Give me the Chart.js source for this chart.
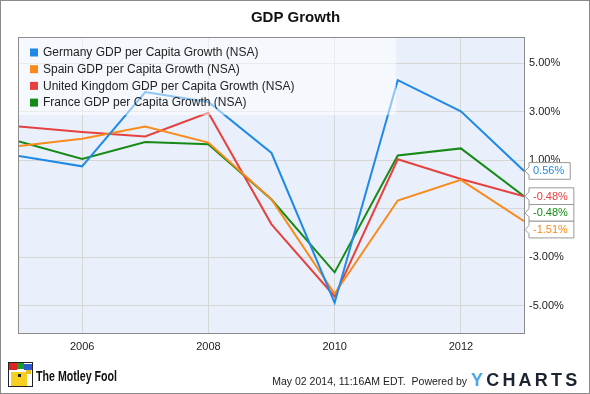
<!DOCTYPE html>
<html>
<head>
<meta charset="utf-8">
<script src="https://cdn.jsdelivr.net/npm/chart.js@4/dist/chart.umd.min.js"></script>
<style>
html,body{margin:0;padding:0;background:#fff;}
#wrap{width:590px;height:394px;position:relative;}
</style>
</head>
<body>
<div id="wrap"><canvas id="c" width="590" height="394"></canvas></div>
<script>
// ---- data ----
const years = [2005, 2006, 2007, 2008, 2009, 2010, 2011, 2012, 2013];
const germany = [1.18, 0.75, 3.81, 3.40, 1.30, -4.87, 4.30, 3.02, 0.56];
const spain   = [1.59, 1.89, 2.39, 1.73, -0.61, -4.50, -0.66, 0.19, -1.51];
const uk      = [2.39, 2.17, 1.98, 2.96, -1.64, -4.61, 1.04, 0.23, -0.48];
const france  = [1.78, 1.05, 1.75, 1.66, -0.62, -3.62, 1.20, 1.49, -0.48];
const seriesNames = [
  'Germany GDP per Capita Growth (NSA)',
  'Spain GDP per Capita Growth (NSA)',
  'United Kingdom GDP per Capita Growth (NSA)',
  'France GDP per Capita Growth (NSA)'
];
const xTickYears = [2006, 2008, 2010, 2012];
const yTickValues = [-5, -3, -1, 1, 3, 5];
const titleText = 'GDP Growth';
const footerDate = 'May 02 2014, 11:16AM EDT.  Powered by';

const colors = ['#1f8ae6', '#f98a1b', '#e5413f', '#168a16'];
const seriesValues = [germany, spain, uk, france];

const datasets = seriesValues.map((vals, i) => ({
  label: seriesNames[i],
  data: vals.map((v, j) => ({x: years[j], y: v})),
  borderColor: colors[i],
  backgroundColor: colors[i],
  borderWidth: 2,
  pointRadius: 0,
  tension: 0,
  fill: false
}));

const FONT = "'Liberation Sans', Arial, sans-serif";

const deco = {
  id: 'deco',
  beforeDraw(chart) {
    const {ctx, chartArea: a} = chart;
    ctx.save();
    ctx.fillStyle = '#fff';
    ctx.fillRect(0, 0, chart.width, chart.height);
    ctx.fillStyle = '#eaf0fb';
    ctx.fillRect(a.left, a.top, a.right - a.left, a.bottom - a.top);
    ctx.restore();
  },
  afterDatasetsDraw(chart) {
    const {ctx, chartArea: a} = chart;
    ctx.save();
    // legend overlay
    ctx.fillStyle = 'rgba(255,255,255,0.5)';
    ctx.fillRect(a.left, a.top, 396 - a.left, 115 - a.top);
    ctx.font = '12px ' + FONT;
    ctx.textBaseline = 'middle';
    for (let i = 0; i < seriesNames.length; i++) {
      const cy = 52.5 + i * 16.7;
      ctx.fillStyle = colors[i];
      ctx.fillRect(30, cy - 4, 8, 8);
      ctx.fillStyle = '#222';
      ctx.fillText(seriesNames[i], 43, cy + 0.5);
    }
    // frame
    ctx.strokeStyle = '#8c8c8c';
    ctx.lineWidth = 1;
    ctx.strokeRect(Math.round(a.left) - 0.5, Math.round(a.top) - 0.5,
                   Math.round(a.right - a.left) + 1, Math.round(a.bottom - a.top) + 1);
    // last value flags
    const ys = chart.scales.y;
    const items = seriesValues.map((vals, i) => ({
      i, v: vals[vals.length - 1], y: ys.getPixelForValue(vals[vals.length - 1])
    }));
    items.sort((p, q) => p.y - q.y);
    const h = 16.7;
    let prev = -1e9;
    ctx.font = '11px ' + FONT;
    items.forEach(it => {
      let cy = Math.max(it.y, prev + h);
      prev = cy;
      const txt = it.v.toFixed(2) + '%';
      const w = ctx.measureText(txt).width + 10;
      const x0 = a.right + 5, tip = a.right + 1;
      const top = cy - h / 2, bot = cy + h / 2;
      ctx.beginPath();
      ctx.moveTo(x0, top);
      ctx.lineTo(x0 + w, top);
      ctx.lineTo(x0 + w, bot);
      ctx.lineTo(x0, bot);
      ctx.lineTo(x0, cy + 4);
      ctx.lineTo(tip, cy);
      ctx.lineTo(x0, cy - 4);
      ctx.closePath();
      ctx.fillStyle = '#fff';
      ctx.fill();
      ctx.strokeStyle = '#999';
      ctx.stroke();
      ctx.fillStyle = colors[it.i];
      ctx.textAlign = 'left';
      ctx.textBaseline = 'middle';
      ctx.fillText(txt, x0 + 4, cy + 0.5);
    });
    ctx.restore();
  },
  afterDraw(chart) {
    const {ctx} = chart;
    ctx.save();
    // title
    ctx.fillStyle = '#111';
    ctx.font = 'bold 15px ' + FONT;
    ctx.textAlign = 'center';
    ctx.textBaseline = 'middle';
    ctx.fillText(titleText, 295.5, 17.5);
    // logo icon
    ctx.fillStyle = '#fff';
    ctx.fillRect(8, 362, 25, 25);
    ctx.fillStyle = '#f5d020';
    ctx.fillRect(11, 372, 16, 14);
    ctx.fillStyle = '#d22';
    ctx.fillRect(9, 363, 8, 7);
    ctx.fillStyle = '#1a9a2a';
    ctx.fillRect(17, 363, 7, 6);
    ctx.fillStyle = '#2a5bd0';
    ctx.fillRect(24, 364, 8, 6);
    ctx.fillStyle = '#e8c020';
    ctx.fillRect(26, 370, 5, 4);
    ctx.strokeStyle = '#222';
    ctx.lineWidth = 1;
    ctx.strokeRect(8.5, 362.5, 24, 24);
    ctx.fillStyle = '#222';
    ctx.fillRect(18, 374, 3, 3);
    // "The Motley Fool"
    ctx.font = 'bold 14px ' + FONT;
    ctx.textAlign = 'left';
    ctx.textBaseline = 'alphabetic';
    const tm = ctx.measureText('The Motley Fool').width;
    ctx.save();
    ctx.translate(36, 381);
    ctx.scale(81 / tm, 1);
    ctx.fillStyle = '#111';
    ctx.fillText('The Motley Fool', 0, 0);
    ctx.restore();
    // footer date
    ctx.font = '10.5px ' + FONT;
    ctx.textAlign = 'right';
    ctx.fillStyle = '#222';
    ctx.fillText(footerDate, 467, 385);
    // YCHARTS
    ctx.font = 'bold 18px ' + FONT;
    ctx.textAlign = 'left';
    const letters = 'YCHARTS'.split('');
    let x = 471;
    letters.forEach((ch, k) => {
      ctx.fillStyle = k === 0 ? '#4ea6e8' : '#1b2430';
      ctx.fillText(ch, x, 386);
      x += ctx.measureText(ch).width + 3.2;
    });
    // outer border
    ctx.strokeStyle = '#8a8a8a';
    ctx.lineWidth = 1;
    ctx.strokeRect(0.5, 0.5, chart.width - 1, chart.height - 1);
    ctx.restore();
  }
};

new Chart(document.getElementById('c'), {
  type: 'line',
  data: {datasets},
  plugins: [deco],
  options: {
    responsive: false,
    animation: false,
    devicePixelRatio: 1,
    layout: {padding: {left: 19, top: 38, right: 0, bottom: 0}},
    plugins: {legend: {display: false}, title: {display: false}, tooltip: {enabled: false}},
    scales: {
      x: {
        type: 'linear',
        min: years[0],
        max: years[years.length - 1],
        afterBuildTicks: s => { s.ticks = xTickYears.map(v => ({value: v})); },
        afterFit: s => { s.height = 61; },
        grid: {color: '#d6d6d6', drawTicks: false},
        border: {display: false},
        ticks: {
          padding: 7,
          color: '#222',
          font: {family: FONT, size: 11},
          callback: v => String(v),
          maxRotation: 0
        }
      },
      y: {
        type: 'linear',
        position: 'right',
        min: -6.12,
        max: 6.04,
        afterBuildTicks: s => { s.ticks = yTickValues.map(v => ({value: v})); },
        afterFit: s => { s.width = 66; },
        grid: {color: '#d6d6d6', drawTicks: false},
        border: {display: false},
        ticks: {
          padding: 5,
          color: '#222',
          font: {family: FONT, size: 11},
          callback: v => v.toFixed(2) + '%'
        }
      }
    }
  }
});
</script>
</body>
</html>
